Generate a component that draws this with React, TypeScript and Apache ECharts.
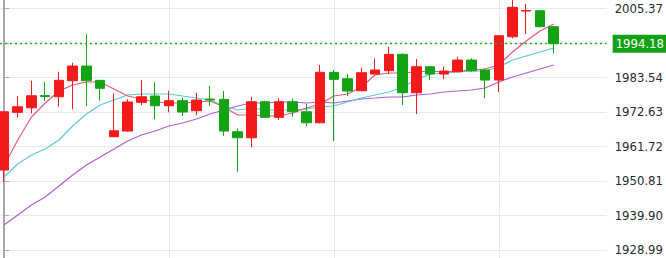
import React, { useEffect, useRef } from "react";
import * as echarts from "echarts";

const opens = [1954.22, 1972.47, 1973.92, 1977.78, 1977.40, 1982.46, 1987.11, 1982.59, 1964.75, 1966.55, 1975.63, 1977.63, 1974.56, 1976.14, 1972.98, 1976.68, 1976.58, 1966.33, 1964.43, 1975.82, 1970.89, 1975.82, 1972.66, 1969.18, 1985.12, 1983.09, 1979.30, 1984.58, 1985.63, 1990.81, 1978.67, 1986.89, 1984.58, 1985.31, 1989.01, 1985.85, 1982.68, 1996.38, 2004.51, 2004.61, 1999.55];
const closes = [1972.66, 1974.24, 1977.72, 1977.47, 1982.59, 1987.11, 1982.46, 1980.06, 1966.65, 1975.73, 1977.40, 1974.56, 1976.14, 1972.57, 1976.36, 1976.36, 1966.55, 1964.43, 1975.82, 1970.89, 1975.82, 1972.66, 1969.18, 1985.12, 1982.91, 1979.21, 1985.00, 1985.85, 1990.81, 1978.67, 1986.89, 1984.58, 1985.53, 1989.01, 1985.63, 1982.68, 1996.70, 2005.68, 2004.67, 1999.55, 1994.18];
const lows = [1950.42, 1970.89, 1972.15, 1976.04, 1974.24, 1973.42, 1974.46, 1976.14, 1964.70, 1966.30, 1974.78, 1970.26, 1972.47, 1971.30, 1971.62, 1974.46, 1965.07, 1953.68, 1961.40, 1970.66, 1970.03, 1971.08, 1968.14, 1969.00, 1963.39, 1977.63, 1979.10, 1984.40, 1984.58, 1974.78, 1971.93, 1982.68, 1983.00, 1985.20, 1985.31, 1976.90, 1978.89, 1995.88, 1997.24, 1999.40, 1991.13];
const highs = [1972.70, 1977.63, 1982.46, 1982.05, 1985.31, 1988.16, 1997.24, 1982.70, 1978.48, 1976.58, 1982.68, 1981.96, 1979.30, 1977.09, 1978.67, 1980.79, 1979.21, 1967.41, 1977.40, 1976.14, 1976.90, 1976.90, 1975.20, 1987.43, 1985.85, 1984.58, 1986.58, 1989.55, 1993.22, 1991.13, 1989.33, 1987.00, 1986.89, 1990.06, 1989.55, 1986.39, 1996.90, 2008.50, 2006.72, 2004.70, 1999.77];

const maFast = [1955.50, 1963.72, 1971.00, 1975.42, 1979.22, 1981.12, 1982.06, 1982.06, 1979.85, 1977.64, 1976.69, 1975.74, 1975.42, 1975.42, 1975.74, 1976.06, 1974.16, 1971.63, 1971.63, 1971.31, 1971.31, 1972.26, 1973.84, 1975.11, 1977.64, 1978.27, 1980.48, 1984.28, 1984.91, 1984.91, 1985.23, 1985.54, 1985.23, 1985.54, 1985.86, 1986.18, 1987.44, 1991.55, 1995.03, 1998.20, 2000.41];
const maMid = [1952.02, 1956.13, 1958.98, 1960.87, 1963.72, 1968.15, 1971.94, 1974.79, 1976.37, 1977.95, 1978.27, 1978.27, 1978.27, 1977.64, 1977.00, 1976.37, 1974.47, 1973.21, 1973.84, 1973.21, 1973.21, 1973.21, 1973.53, 1974.16, 1974.47, 1975.74, 1977.00, 1977.95, 1978.90, 1980.48, 1982.70, 1984.60, 1984.91, 1985.23, 1985.54, 1985.54, 1986.81, 1989.02, 1990.29, 1991.55, 1992.82];
const maSlow = [1936.84, 1940.00, 1943.16, 1945.69, 1949.17, 1952.65, 1955.81, 1958.34, 1960.87, 1963.40, 1965.30, 1966.57, 1968.15, 1969.10, 1970.36, 1971.94, 1973.21, 1974.47, 1975.42, 1975.42, 1975.74, 1975.74, 1975.42, 1975.74, 1975.42, 1976.06, 1976.69, 1977.00, 1977.32, 1977.32, 1977.95, 1978.27, 1978.90, 1979.22, 1979.53, 1980.17, 1982.06, 1983.65, 1984.91, 1986.18, 1987.44];

const yTicks = [1928.99, 1939.90, 1950.81, 1961.72, 1972.63, 1983.54, 1994.45, 2005.37];
const yLabels = [1928.99, 1939.90, 1950.81, 1961.72, 1972.63, 1983.54, 2005.37];
const xGridAt = [0, 12, 24, 36];
const lastPrice = 1994.18;

const UP = "#f21a1a";
const DOWN = "#14a314";
const FONT = "'DejaVu Sans Condensed', 'Liberation Sans', sans-serif";

export default function App() {
  const ref = useRef<HTMLDivElement>(null);
  useEffect(() => {
    if (!ref.current) return;
    const chart = echarts.init(ref.current, null, { renderer: "svg" });
    const candles = opens.map((o, i) => [i, o, closes[i], lows[i], highs[i]]);
    const line = (arr: number[]) => arr.map((v, i) => [i, v]);
    chart.setOption({
      animation: false,
      grid: { left: 0, right: 58, top: 0, bottom: 0 },
      xAxis: {
        type: "value",
        min: -0.29,
        max: 43.85,
        axisLine: { show: false },
        axisLabel: { show: false },
        axisTick: { show: false, customValues: xGridAt },
        splitLine: { show: true, lineStyle: { color: "#e6eaf0", width: 1 } },
      },
      yAxis: {
        type: "value",
        position: "right",
        min: 1926.4,
        max: 2008.0,
        axisLine: { show: true, lineStyle: { color: "#a9a9a9", width: 2 } },
        axisTick: { show: true, length: 5, customValues: yTicks, lineStyle: { color: "#a9a9a9" } },
        axisLabel: {
          show: true,
          customValues: yLabels,
          margin: 8,
          color: "#2a2a2a",
          fontSize: 13,
          fontFamily: FONT,
          formatter: (v: number) => v.toFixed(2),
        },
        splitLine: { show: true, lineStyle: { color: "#e6eaf0", width: 1 } },
      },
      series: [
        {
          type: "line",
          data: line(maSlow),
          showSymbol: false,
          lineStyle: { color: "#b45ccc", width: 1.2 },
          z: 2,
        },
        {
          type: "line",
          data: line(maMid),
          showSymbol: false,
          lineStyle: { color: "#5cc9d8", width: 1.2 },
          z: 2,
        },
        {
          type: "line",
          data: line(maFast),
          showSymbol: false,
          lineStyle: { color: "#e8587c", width: 1.2 },
          z: 2,
        },
        {
          type: "candlestick",
          data: candles,
          barWidth: 10,
          z: 3,
          itemStyle: {
            color: UP,
            color0: DOWN,
            borderColor: UP,
            borderColor0: DOWN,
            borderWidth: 1,
          },
          markLine: {
            silent: true,
            symbol: ["none", "none"],
            data: [{ yAxis: lastPrice }],
            lineStyle: { color: "#1db31d", type: [2, 3], width: 1.3, opacity: 1 },
            label: {
              show: true,
              position: "end",
              distance: 6,
              formatter: () => lastPrice.toFixed(2),
              color: "#ffffff",
              backgroundColor: "#14a014",
              padding: [3, 6, 2, 3],
              fontSize: 13,
              fontFamily: FONT,
            },
          },
        },
      ],
    });
    return () => chart.dispose();
  }, []);
  return (
    <div
      ref={ref}
      style={{ position: "fixed", left: 0, top: 0, width: 666, height: 258, background: "#ffffff" }}
    />
  );
}
